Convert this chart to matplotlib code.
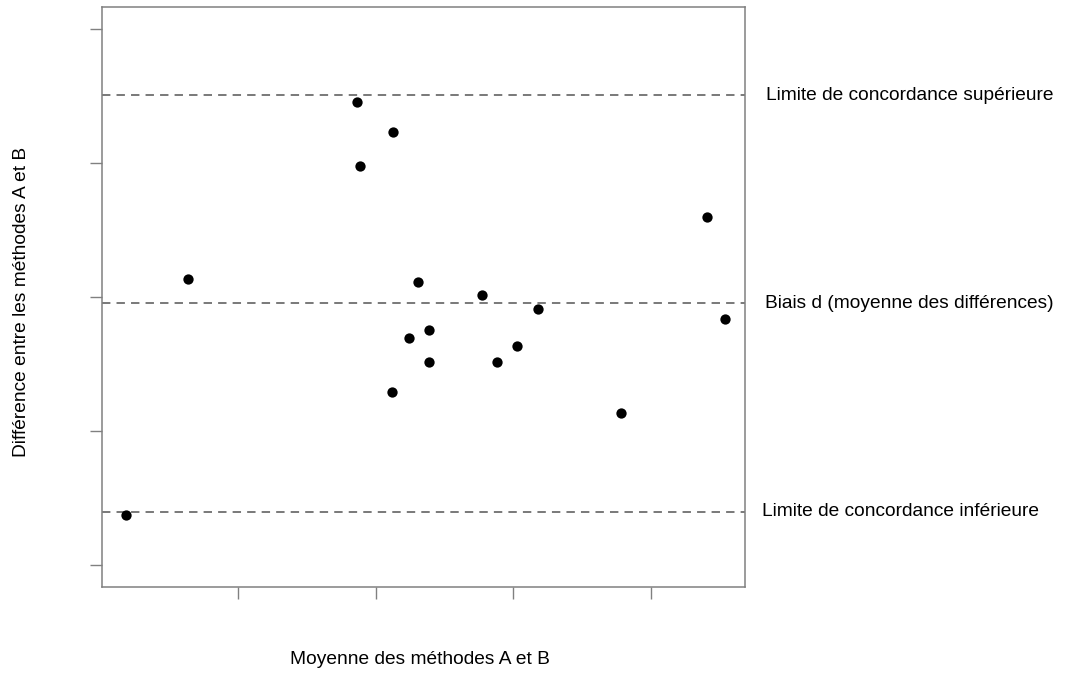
import matplotlib.pyplot as plt

plt.rcParams["font.family"] = ["Liberation Sans", "DejaVu Sans"]

# Bland-Altman data
moyenne = [0.186, 0.637, 1.862, 1.884, 2.124, 2.122, 2.243, 2.310, 2.389,
           2.389, 2.775, 2.878, 3.029, 3.179, 3.782, 4.409, 4.539]
difference = [-1.629, 0.133, 1.457, 0.979, 1.233, -0.709, -0.306, 0.114,
              -0.246, -0.485, 0.015, -0.485, -0.366, -0.087, -0.863, 0.599,
              -0.164]

biais = -0.047
limite_sup = 1.507
limite_inf = -1.602

x_ticks = [1, 2, 3, 4]
y_ticks = [-2, -1, 0, 1, 2]

fig = plt.figure(figsize=(10.79, 6.76), dpi=100)
ax = fig.add_axes([102 / 1079, 1 - 587 / 676, 643 / 1079, 580 / 676])

ax.scatter(moyenne, difference, s=55, color="black", zorder=3, linewidths=0)

for val in (limite_sup, biais, limite_inf):
    ax.axhline(val, color="#555555", linestyle=(0, (5.5, 4)), linewidth=1.1)

ax.set_xlim(0.012, 4.683)
ax.set_ylim(-2.164, 2.164)
ax.set_xticks(x_ticks)
ax.set_yticks(y_ticks)
ax.set_xticklabels([])
ax.set_yticklabels([])
ax.tick_params(direction="out", length=8.5, width=1.0, color="#808080")
for sp in ax.spines.values():
    sp.set_color("#808080")
    sp.set_linewidth(1.1)

fs = 13.8
labels = [
    (limite_sup, "Limite de concordance supérieure", 766),
    (biais, "Biais d (moyenne des différences)", 765),
    (limite_inf, "Limite de concordance inférieure", 762),
]
for val, txt, px in labels:
    ax.annotate(txt, xy=(px / 1079, val), xycoords=("figure fraction", "data"),
                va="center", ha="left", fontsize=fs, annotation_clip=False)

fig.text(420 / 1079, 1 - 660 / 676, "Moyenne des méthodes A et B",
         ha="center", va="center", fontsize=fs)
fig.text(22 / 1079, 1 - 302 / 676, "Différence entre les méthodes A et B",
         ha="center", va="center", rotation=90, fontsize=fs)

fig.savefig("out.png", dpi=100)
